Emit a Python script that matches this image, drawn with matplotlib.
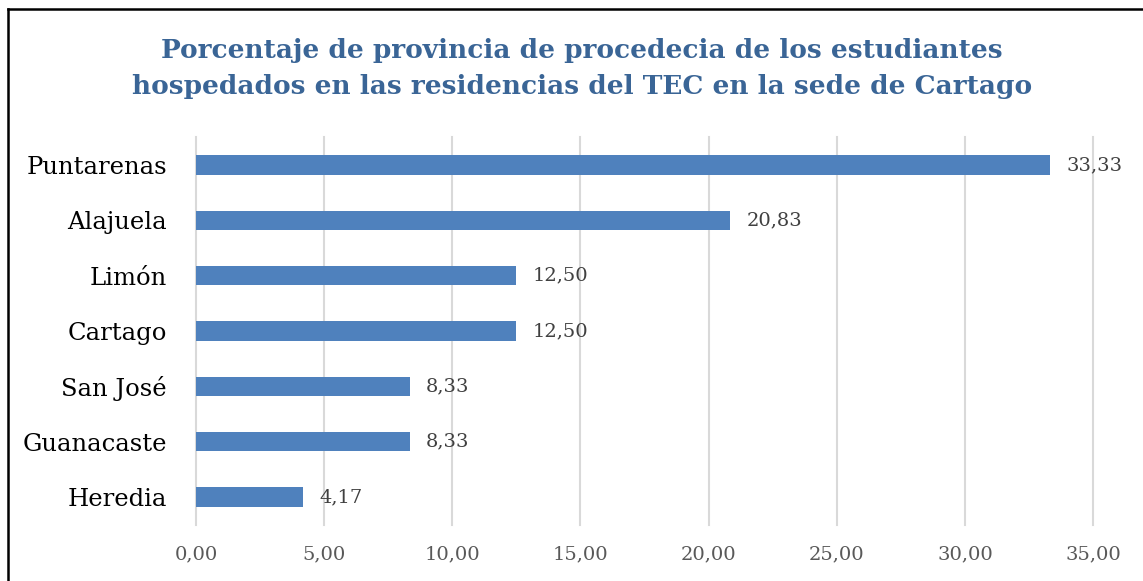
import matplotlib.pyplot as plt
from matplotlib.ticker import FuncFormatter

#Data
provincias = ['Puntarenas', 'Alajuela', 'Limón', 'Cartago', 'San José', 'Guanacaste', 'Heredia']
porcentajes = [33.33, 20.83, 12.50, 12.50, 8.33, 8.33, 4.17]
x_ticks = [0, 5, 10, 15, 20, 25, 30, 35]

bar_color = '#4F81BD'
title_color = '#3A6596'

fig = plt.figure(figsize=(11.43, 5.81), dpi=100)
ax = fig.add_axes([0.1715, 0.0971, 0.7848, 0.6664])

#Chart
y = list(range(len(provincias)))
ax.barh(y, porcentajes, height=0.35, color=bar_color, zorder=3)
ax.set_ylim(len(provincias) - 0.5, -0.5)
ax.set_xlim(0, 35)
ax.set_yticks(y)
ax.set_yticklabels(provincias, fontsize=17.5, family='DejaVu Serif', color='black')
ax.set_xticks(x_ticks)
ax.xaxis.set_major_formatter(FuncFormatter(lambda v, p: f'{v:.2f}'.replace('.', ',')))
ax.tick_params(axis='x', labelsize=14, labelcolor='#595959', length=0, pad=15)
ax.tick_params(axis='y', length=0, pad=21)
for lab in ax.get_xticklabels():
    lab.set_family('DejaVu Serif')
ax.grid(axis='x', color='#D9D9D9', linewidth=1.5, zorder=0)
for gl in ax.get_xgridlines():
    gl.set_clip_on(False)
ax.spines[['top', 'right', 'left', 'bottom']].set_visible(False)

#Labels
for yi, v in zip(y, porcentajes):
    ax.text(v + 0.65, yi, f'{v:.2f}'.replace('.', ','), va='center', ha='left',
            fontsize=14, color='#404040', family='DejaVu Serif', clip_on=False)

#Title
fig.text(0.509, 0.882, 'Porcentaje de provincia de procedecia de los estudiantes\n'
         'hospedados en las residencias del TEC en la sede de Cartago',
         ha='center', va='center', fontsize=19, fontweight='bold', color=title_color,
         family='DejaVu Serif', linespacing=1.52)

#Border
fig.add_artist(plt.Line2D([8/1143, 8/1143], [0, 1 - 9/581], color='black', linewidth=1.8))
fig.add_artist(plt.Line2D([8/1143, 1], [1 - 9/581, 1 - 9/581], color='black', linewidth=1.8))

fig.savefig('out.png', dpi=100)
